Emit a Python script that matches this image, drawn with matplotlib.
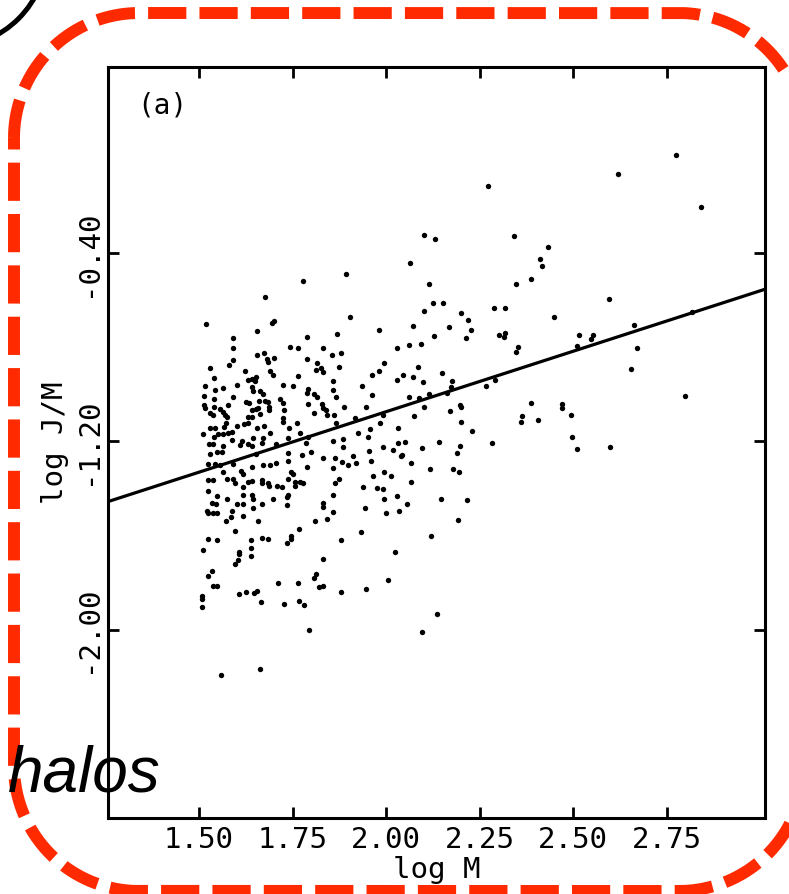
import numpy as np
import matplotlib
matplotlib.use("Agg")
import matplotlib.pyplot as plt
from matplotlib.patches import Arc

# log M / log J/M pairs for the halo sample
log_m = [
    # high-mass tail, upper part
    2.273, 2.102, 2.131, 2.064, 2.115, 1.893, 1.778, 1.676, 2.618, 2.773,
    2.840, 2.342, 2.433, 2.412, 2.417, 2.388, 2.348, 2.596,
    # log M > 2.04
    2.126, 2.152, 2.102, 2.201, 2.219, 2.289, 2.318, 2.072, 2.168, 2.227,
    2.449, 2.128, 2.061, 2.094, 2.214, 2.302, 2.318, 2.316, 2.516, 2.548,
    2.553, 2.663, 2.818, 2.353, 2.348, 2.511, 2.671, 2.655, 2.799, 2.086,
    2.045, 2.072, 2.099, 2.150, 2.176, 2.174, 2.061, 2.088, 2.115, 2.163,
    2.267, 2.291, 2.102, 2.075, 2.171, 2.198, 2.201, 2.201, 2.230, 2.388,
    2.364, 2.361, 2.406, 2.471, 2.471, 2.495, 2.497, 2.511, 2.599, 2.283,
    2.051, 2.096, 2.142, 2.198, 2.190, 2.043, 2.067, 2.118, 2.179, 2.195,
    2.067, 2.056, 2.147, 2.217, 2.193, 2.120, 2.136, 2.096,
    # 1.85 < log M < 2.04, upper half
    1.904, 1.869, 1.981, 2.029, 1.856, 1.880, 1.874, 1.995, 1.981, 1.963,
    2.029, 1.858, 1.858, 1.936, 1.866, 1.963, 1.888, 1.947, 1.992, 1.861,
    1.866, 1.917, 1.984, 1.957, 1.925, 2.032, 1.952, 1.885, 1.858, 2.032,
    1.992, 1.885,
    # 1.85 < log M < 2.04, lower half
    1.864, 1.912, 1.955, 2.019, 2.040, 1.882, 1.858, 1.898, 1.920, 1.960,
    1.874, 1.864, 1.965, 1.995, 2.013, 1.939, 1.976, 1.992, 1.995, 2.029,
    1.858, 1.944, 1.858, 2.035, 2.000, 1.933, 1.880, 2.024, 2.005, 1.947,
    1.880,
    # low tail
    1.508, 1.508, 1.508, 1.607, 1.626, 1.647, 1.655, 1.666, 1.727, 1.767,
    1.781, 1.794, 1.559, 1.663,
    # log M < 1.85, below the fit
    1.529, 1.548, 1.561, 1.652, 1.738, 1.775, 1.799, 1.832, 1.524, 1.543,
    1.556, 1.591, 1.671, 1.690, 1.706, 1.738, 1.789, 1.642, 1.564, 1.612,
    1.618, 1.746, 1.751, 1.524, 1.537, 1.575, 1.591, 1.596, 1.631, 1.642,
    1.668, 1.668, 1.684, 1.687, 1.709, 1.722, 1.738, 1.757, 1.770, 1.778,
    1.757, 1.524, 1.618, 1.618, 1.642, 1.644, 1.698, 1.548, 1.575, 1.535,
    1.545, 1.602, 1.588, 1.618, 1.644, 1.668, 1.735, 1.738, 1.735, 1.832,
    1.832, 1.521, 1.524, 1.537, 1.548, 1.586, 1.572, 1.618, 1.658, 1.596,
    1.810, 1.842, 1.767, 1.524, 1.548, 1.639, 1.668, 1.684, 1.746, 1.746,
    1.735, 1.511, 1.639, 1.639, 1.607, 1.607, 1.604, 1.596, 1.832, 1.535,
    1.524, 1.813, 1.807, 1.711, 1.765, 1.537, 1.548, 1.821, 1.832,
    # log M < 1.85, above the fit
    1.519, 1.695, 1.701, 1.655, 1.591, 1.591, 1.789, 1.743, 1.765, 1.832,
    1.655, 1.674, 1.682, 1.684, 1.701, 1.591, 1.580, 1.789, 1.816, 1.529,
    1.623, 1.690, 1.698, 1.813, 1.826, 1.832, 1.540, 1.631, 1.642, 1.652,
    1.650, 1.765, 1.516, 1.602, 1.725, 1.751, 1.543, 1.564, 1.642, 1.644,
    1.663, 1.671, 1.791, 1.789, 1.807, 1.816, 1.513, 1.591, 1.540, 1.626,
    1.634, 1.660, 1.676, 1.684, 1.717, 1.725, 1.791, 1.829, 1.513, 1.516,
    1.540, 1.556, 1.578, 1.642, 1.652, 1.658, 1.687, 1.687, 1.727, 1.832,
    1.840, 1.529, 1.537, 1.564, 1.570, 1.575, 1.631, 1.642, 1.663, 1.725,
    1.725, 1.807, 1.842, 1.511, 1.529, 1.543, 1.572, 1.567, 1.602, 1.620,
    1.631, 1.655, 1.674, 1.690, 1.741, 1.762, 1.770, 1.791, 1.540, 1.551,
    1.564, 1.578, 1.588, 1.537, 1.527, 1.588, 1.615, 1.610, 1.631, 1.642,
    1.671, 1.668, 1.644, 1.738, 1.786, 1.706, 1.564,
]

log_jm = [
    -0.115, -0.323, -0.340, -0.443, -0.532, -0.489, -0.519, -0.587, -0.064, 0.017,
    -0.204, -0.328, -0.374, -0.426, -0.455, -0.511, -0.532, -0.596,
    -0.613, -0.613, -0.647, -0.655, -0.685, -0.634, -0.634, -0.711, -0.715, -0.728,
    -0.672, -0.753, -0.791, -0.787, -0.762, -0.749, -0.740, -0.757, -0.749, -0.766,
    -0.749, -0.706, -0.651, -0.800, -0.821, -0.796, -0.804, -0.894, -1.009, -0.885,
    -0.919, -0.928, -0.949, -0.911, -0.945, -0.970, -1.013, -1.017, -1.000, -0.996,
    -0.966, -0.940, -1.055, -1.094, -1.072, -1.047, -1.055, -1.119, -1.157, -1.038,
    -1.094, -1.119, -1.111, -1.043, -1.060, -1.089, -1.183, -1.234, -1.226, -1.209,
    -1.204, -1.230, -1.204, -1.221, -1.251, -1.260, -1.294, -1.319, -1.319, -1.332,
    -1.374, -1.468, -1.443, -1.451, -1.536, -1.604, -1.932, -2.009,
    -0.672, -0.745, -0.728, -0.804, -0.834, -0.826, -0.885, -0.868, -0.902, -0.919,
    -0.940, -0.945, -0.983, -0.966, -1.013, -1.004, -1.055, -1.055, -1.089, -1.089,
    -1.123, -1.102, -1.123, -1.149, -1.166, -1.145, -1.183, -1.191, -1.200, -1.209,
    -1.226, -1.226,
    -1.272, -1.264, -1.243, -1.238, -1.264, -1.289, -1.315, -1.302, -1.294, -1.285,
    -1.362, -1.379, -1.349, -1.332, -1.349, -1.396, -1.400, -1.404, -1.443, -1.434,
    -1.430, -1.481, -1.498, -1.494, -1.506, -1.587, -1.621, -1.668, -1.787, -1.826,
    -1.838,
    -1.855, -1.868, -1.902, -1.847, -1.838, -1.843, -1.834, -1.881, -1.889, -1.877,
    -1.894, -2.000, -2.191, -2.166,
    -1.255, -1.247, -1.247, -1.255, -1.251, -1.260, -1.247, -1.272, -1.298, -1.298,
    -1.302, -1.298, -1.302, -1.302, -1.294, -1.285, -1.311, -1.311, -1.332, -1.328,
    -1.340, -1.332, -1.340, -1.366, -1.366, -1.362, -1.362, -1.379, -1.374, -1.370,
    -1.366, -1.379, -1.379, -1.391, -1.391, -1.396, -1.362, -1.374, -1.374, -1.379,
    -1.391, -1.409, -1.396, -1.426, -1.426, -1.443, -1.443, -1.434, -1.447, -1.460,
    -1.464, -1.468, -1.494, -1.468, -1.481, -1.464, -1.438, -1.426, -1.472, -1.460,
    -1.477, -1.494, -1.506, -1.506, -1.506, -1.523, -1.540, -1.519, -1.540, -1.579,
    -1.540, -1.528, -1.574, -1.613, -1.621, -1.621, -1.609, -1.613, -1.600, -1.613,
    -1.630, -1.660, -1.655, -1.685, -1.668, -1.677, -1.706, -1.719, -1.698, -1.749,
    -1.774, -1.762, -1.779, -1.800, -1.800, -1.813, -1.813, -1.817, -1.813,
    -0.702, -0.698, -0.689, -0.732, -0.762, -0.804, -0.757, -0.800, -0.804, -0.804,
    -0.834, -0.826, -0.851, -0.864, -0.847, -0.855, -0.877, -0.851, -0.868, -0.889,
    -0.902, -0.902, -0.919, -0.898, -0.889, -0.906, -0.932, -0.940, -0.936, -0.928,
    -0.945, -0.923, -0.966, -0.962, -0.962, -0.966, -0.983, -0.974, -0.970, -0.987,
    -0.987, -1.000, -0.979, -0.996, -1.000, -1.013, -1.009, -1.013, -1.021, -1.034,
    -1.038, -1.030, -1.030, -1.034, -1.021, -1.038, -1.043, -1.043, -1.047, -1.060,
    -1.055, -1.064, -1.047, -1.068, -1.064, -1.060, -1.068, -1.055, -1.068, -1.060,
    -1.068, -1.081, -1.089, -1.077, -1.089, -1.098, -1.098, -1.098, -1.085, -1.102,
    -1.119, -1.081, -1.089, -1.170, -1.145, -1.145, -1.123, -1.140, -1.136, -1.128,
    -1.123, -1.145, -1.136, -1.166, -1.145, -1.123, -1.166, -1.183, -1.183, -1.170,
    -1.170, -1.166, -1.162, -1.213, -1.213, -1.196, -1.200, -1.217, -1.213, -1.221,
    -1.187, -1.209, -1.187, -1.187, -1.209, -1.213, -1.221,
]

# least-squares line drawn across the panel
fit_slope = 0.514
fit_intercept = -2.102

x_ticks = [1.50, 1.75, 2.00, 2.25, 2.50, 2.75]
y_ticks = [-2.00, -1.20, -0.40]

mono = "DejaVu Sans Mono"


def rounded_outline(x0, y0, x1, y1, r, n=40):
    # closed polyline of a rounded rectangle, y growing downwards
    corners = [((x0 + r, y0 + r), 180, 270), ((x1 - r, y0 + r), 270, 360),
               ((x1 - r, y1 - r), 0, 90), ((x0 + r, y1 - r), 90, 180)]
    xs, ys = [], []
    for (cx, cy), a0, a1 in corners:
        t = np.radians(np.linspace(a0, a1, n))
        xs.extend(cx + r * np.cos(t))
        ys.extend(cy + r * np.sin(t))
    xs.append(xs[0])
    ys.append(ys[0])
    return xs, ys


fig = plt.figure(figsize=(7.89, 8.94), dpi=100)
ax = fig.add_axes([0.1369, 0.0850, 0.8327, 0.8400])

ax.scatter(log_m, log_jm, s=15, c="black", linewidths=0, zorder=3)

xlim = (1.257, 3.012)
xf = np.array(xlim)
ax.plot(xf, fit_slope * xf + fit_intercept, color="black", lw=2.3, zorder=2)

ax.set_xlim(*xlim)
ax.set_ylim(-2.80, 0.39)

ax.set_xticks(x_ticks)
ax.set_xticklabels([f"{v:.2f}" for v in x_ticks], family=mono, fontsize=21)
ax.set_yticks(y_ticks)
ax.set_yticklabels([f"{v:.2f}" for v in y_ticks], family=mono, fontsize=21,
                   rotation=90, va="center")

ax.tick_params(direction="in", length=8, width=2.0, top=True, right=True)
ax.tick_params(axis="x", pad=6)
ax.tick_params(axis="y", pad=4)
for sp in ax.spines.values():
    sp.set_linewidth(2.2)

ax.set_xlabel("log M", family=mono, fontsize=21, labelpad=1)
ax.set_ylabel("log J/M", family=mono, fontsize=21, labelpad=4)
ax.text(0.044, 0.949, "(a)", transform=ax.transAxes, family=mono,
        fontsize=20, va="center", ha="left")

# overlay in pixel units for the frame and caption
ov = fig.add_axes([0, 0, 1, 1])
ov.set_xlim(0, 789)
ov.set_ylim(894, 0)
ov.axis("off")
ov.patch.set_alpha(0)

fx, fy = rounded_outline(14, 13, 804, 891, 125)
ov.plot(fx, fy, color="#ff2a00", lw=8.6, dashes=(3.2, 1.1),
        dash_capstyle="butt")
ov.add_patch(Arc((-50, -50), 194, 194, theta1=0, theta2=90,
                 color="black", lw=3.6))

ov.text(8, 792, "halos", fontsize=46, style="italic",
        family="Liberation Sans", va="baseline", ha="left", zorder=5)

fig.savefig("out.png", dpi=100)
